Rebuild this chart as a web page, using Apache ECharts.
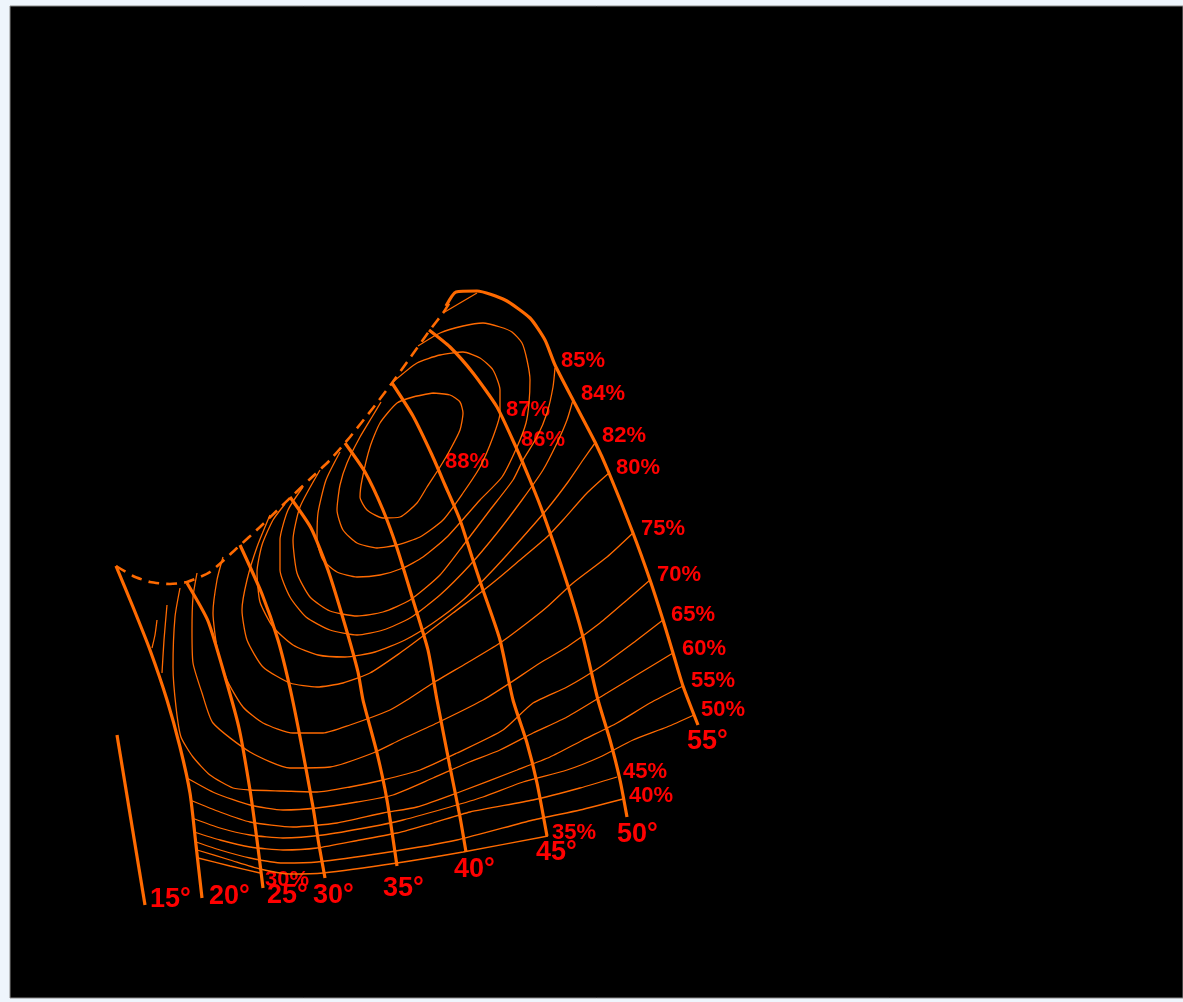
<!DOCTYPE html>
<html>
<head>
<meta charset="utf-8">
<title>hill chart</title>
<script src="https://cdn.jsdelivr.net/npm/echarts@6/dist/echarts.min.js"></script>
<style>
html, body { margin: 0; padding: 0; background: #eef5fc; }
#main { width: 1183px; height: 1002px; }
</style>
</head>
<body>
<div id="main"></div>
<script>
// blade angle lines (thick)
const blade15 = [[117,735],[145,905]];
const blade20 = [[116,566],[133,607],[150,650],[167,700],[180,747],[190,793],[196,845],[202,898]];
const blade25 = [[187,583],[208,621],[226,680],[239,728],[250,790],[257,840],[263,888]];
const blade30 = [[240,545],[262,594],[278,640],[290,688],[300,737],[313,807],[319,845],[325,878]];
const blade35 = [[290,497],[311,528],[328,570],[345,625],[358,672],[363,700],[377,753],[387,800],[397,866]];
const blade40 = [[345,443],[365,472],[383,510],[397,548],[413,600],[428,650],[437,700],[450,767],[460,817],[466,852]];
const blade45 = [[392,383],[413,416],[432,455],[445,485],[460,520],[472,557],[483,590],[500,640],[513,700],[527,743],[537,783],[547,836]];
const blade50 = [[429,330],[450,347],[473,373],[497,407],[515,445],[530,480],[543,513],[567,583],[583,637],[598,700],[610,740],[620,780],[627,817]];
const blade55 = [[446,306],[456,292],[477,291],[505,300],[530,318],[545,340],[555,365],[573,400],[595,442],[609,473],[633,533],[650,580],[663,620],[673,653],[683,686],[698,725]];
const bladeLines = [blade15, blade20, blade25, blade30, blade35, blade40, blade45, blade50, blade55];

// cavitation / envelope line (dashed)
const envelope = [[116,566],[133,576],[150,582],[170,584],[187,582],[210,572],[237,548],[260,527],[290,498],[310,479],[330,460],[350,437],[373,408],[392,383],[410,358],[430,330],[443,313],[450,302]];

// efficiency contours (thin)
const c88 = [[433,393],[450,395],[460,402],[463,413],[460,430],[450,450],[440,467],[427,487],[417,503],[400,517],[383,518],[367,510],[360,497],[362,480],[370,447],[380,423],[397,403],[413,397],[433,393]];
const c87 = [[393,382],[417,363],[440,355],[463,352],[480,358],[493,370],[500,390],[500,413],[493,437],[480,467],[463,493],[443,520],[420,537],[397,545],[377,548],[357,543],[343,530],[337,510],[340,485],[347,463],[360,437],[372,417],[381,402]];
const c86 = [[418,346],[440,333],[463,326],[483,323],[500,327],[512,332],[522,343],[527,360],[530,380],[529,403],[526,423],[517,447],[502,477],[480,500],[447,537],[423,557],[403,568],[380,575],[357,577],[337,572],[323,560],[317,540],[318,513],[326,480],[340,452]];
const c85top = [[443,313],[477,293]];
const c85 = [[555,368],[553,387],[547,413],[537,437],[523,460],[513,480],[490,510],[465,543],[440,575],[410,600],[383,612],[357,616],[330,611],[310,597],[297,573],[293,540],[300,507],[320,470]];
const c84 = [[573,400],[567,420],[557,443],[543,470],[522,500],[497,533],[470,565],[440,595],[410,618],[383,630],[357,635],[330,630],[306,617],[290,597],[280,570],[280,540],[288,510],[303,487]];
const c82 = [[595,443],[583,460],[568,482],[548,508],[522,538],[493,570],[463,600],[433,623],[405,640],[375,652],[345,657],[318,655],[293,645],[273,627],[260,602],[257,572],[262,545],[273,520],[285,504]];
const c80 = [[609,473],[587,493],[563,520],[547,537],[520,560],[500,577],[480,593],[453,613],[427,633],[400,653],[370,673],[343,683],[317,687],[290,683],[263,667],[247,640],[242,610],[247,580],[257,547],[270,515]];
const c75 = [[633,533],[607,557],[573,583],[547,607],[527,623],[500,643],[467,663],[433,683],[407,700],[390,710],[350,725],[323,733],[293,733],[263,723],[243,707],[227,680],[217,647],[213,613],[217,580],[223,557]];
const c70 = [[650,580],[627,600],[600,623],[567,647],[540,663],[510,683],[483,700],[437,723],[400,740],[373,753],[330,767],[290,768],[250,752],[213,723],[202,693],[193,663],[192,630],[193,597],[197,573]];
const c65 = [[663,620],[633,643],[600,667],[567,687],[533,703],[503,730],[457,753],[420,770],[383,780],[350,787],[317,792],[283,791],[250,790],[233,788],[210,775],[193,757],[181,737],[176,707],[173,667],[175,617],[180,588]];
const c60top = [[167,605],[164,640],[162,673]];
const c60 = [[673,653],[640,673],[607,693],[567,717],[533,733],[500,750],[467,763],[433,778],[393,795],[357,802],[317,808],[283,810],[250,805],[215,793],[187,778]];
const c55top = [[157,620],[155,635],[152,648]];
const c55 = [[683,686],[650,703],[617,723],[583,740],[550,757],[517,770],[457,793],[417,807],[383,813],[337,823],[293,827],[250,822],[220,812],[190,800]];
const c50 = [[694,715],[667,727],[633,740],[600,757],[567,770],[523,782],[483,797],[450,807],[403,820],[370,827],[323,835],[283,838],[250,835],[220,828],[192,818]];
const c45 = [[617,777],[580,788],[533,800],[470,812],[433,823],[397,833],[360,840],[317,848],[283,850],[250,847],[220,840],[194,832]];
const c40 = [[623,799],[580,810],[533,820],[457,840],[383,853],[317,862],[283,863],[250,858],[220,850],[196,842]];
const c35 = [[548,836],[463,852],[397,863],[323,873],[290,874],[260,869],[230,860],[197,850]];
const c30 = [[198,858],[230,866],[260,873]];
const contours = [c88, c87, c86, c85top, c85, c84, c82, c80, c75, c70, c65, c60top, c60, c55top, c55, c50, c45, c40, c35, c30];

// text labels: [x, y, text]
const effLabels = [
    [445,462,'88%'],[506,410,'87%'],[521,440,'86%'],[561,361,'85%'],[581,394,'84%'],
    [602,436,'82%'],[616,468,'80%'],[641,529,'75%'],[657,575,'70%'],[671,615,'65%'],
    [682,649,'60%'],[691,681,'55%'],[701,710,'50%'],[623,772,'45%'],[629,796,'40%'],
    [552,833,'35%'],[265,880,'30%']
];
const angleLabels = [
    [150,900,'15°'],[209,897,'20°'],[267,896,'25°'],[313,896,'30°'],[383,889,'35°'],
    [454,870,'40°'],[536,853,'45°'],[617,835,'50°'],[687,742,'55°']
];

const ORANGE = '#ff6a00';
const chart = echarts.init(document.getElementById('main'));

const series = [];
bladeLines.forEach((pts) => {
    series.push({ type: 'line', data: pts, symbol: 'none', smooth: 0.2, silent: true,
        lineStyle: { color: ORANGE, width: 3.2 } });
});
series.push({ type: 'line', data: envelope, symbol: 'none', smooth: 0.2, silent: true,
    lineStyle: { color: ORANGE, width: 2.6, type: [11, 7] } });
contours.forEach((pts) => {
    series.push({ type: 'line', data: pts, symbol: 'none', smooth: 0.2, silent: true,
        lineStyle: { color: ORANGE, width: 1.3 } });
});

function labelSeries(rows, size) {
    return {
        type: 'scatter', data: rows, symbol: 'circle', symbolSize: 0, silent: true,
        itemStyle: { color: '#ff0000', opacity: 1 },
        label: { show: true, position: 'right', distance: 0, formatter: (p) => p.data[2], opacity: 1,
            color: '#ff0000', textBorderWidth: 0, fontSize: size, fontWeight: 'bold', fontFamily: 'Liberation Sans' }
    };
}
series.push(labelSeries(effLabels, 22));
series.push(labelSeries(angleLabels, 27));

chart.setOption({
    animation: false,
    grid: { left: 10, right: 0, top: 6, bottom: 4, show: true, backgroundColor: '#000', borderColor: '#888', borderWidth: 1 },
    xAxis: { type: 'value', min: 10, max: 1183, show: false },
    yAxis: { type: 'value', min: 6, max: 998, inverse: true, show: false },
    series: series
});
</script>
</body>
</html>
